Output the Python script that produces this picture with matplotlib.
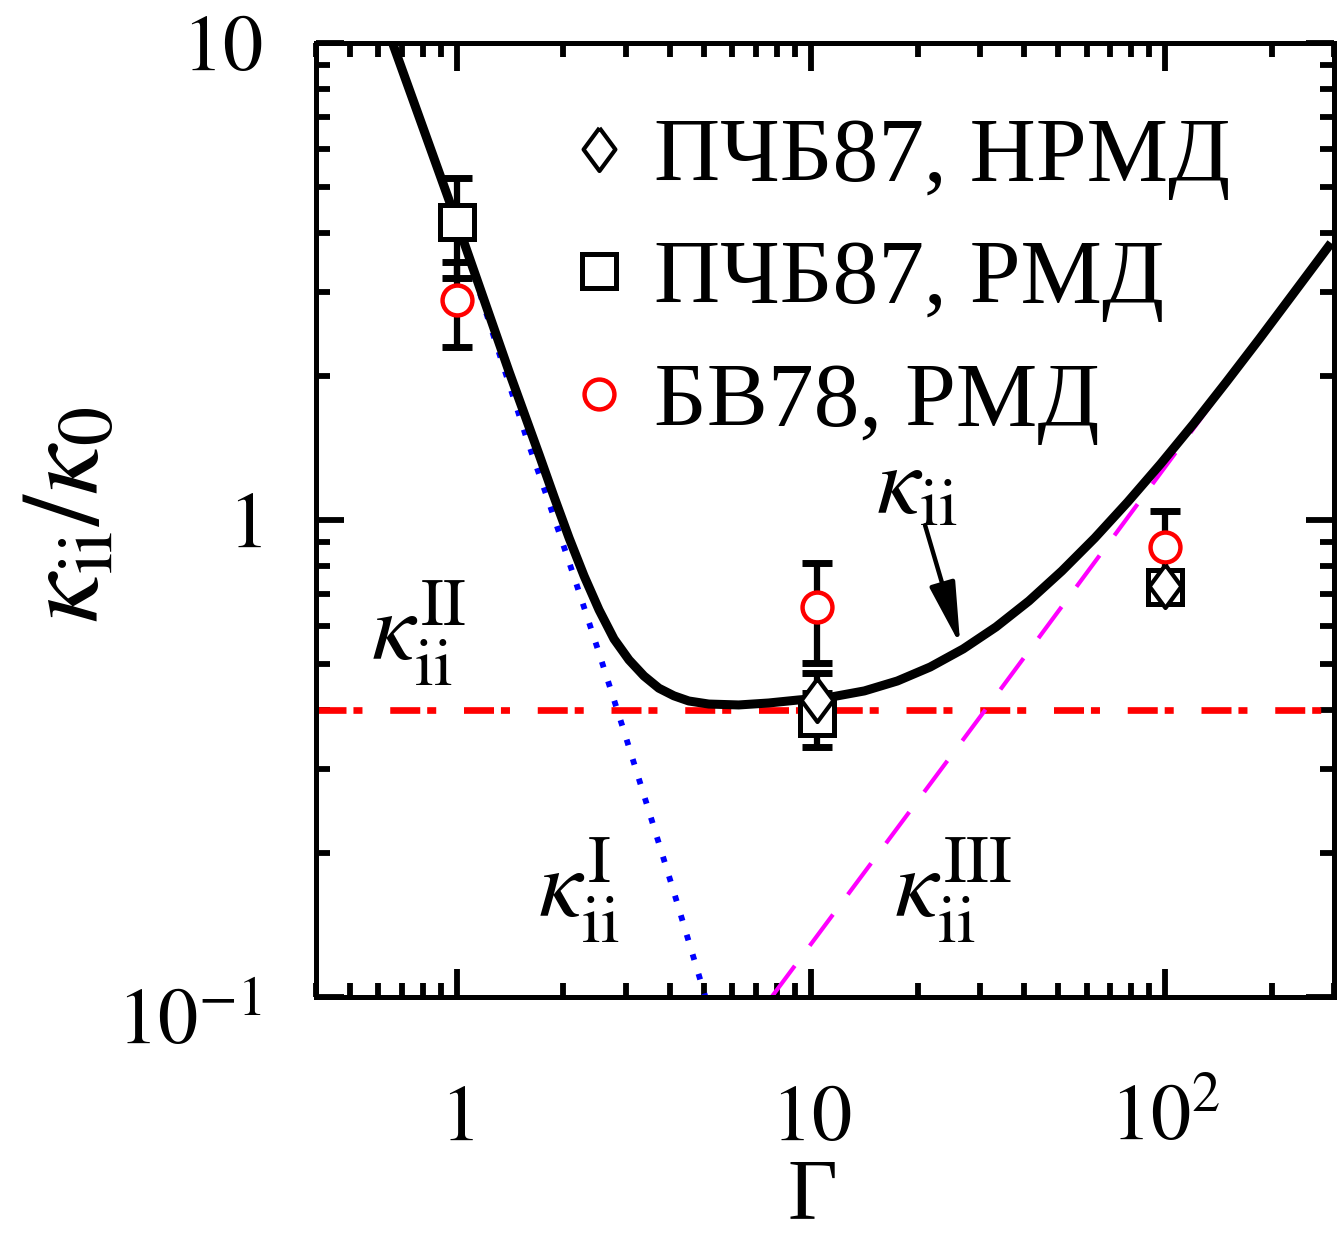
import numpy as np
import matplotlib
matplotlib.use("Agg")
import matplotlib.pyplot as plt
import matplotlib.transforms as mtransforms
from matplotlib.lines import Line2D
from matplotlib.ticker import LogLocator, NullFormatter

plt.rcParams['font.family'] = ['Liberation Serif', 'DejaVu Serif']
plt.rcParams['mathtext.fontset'] = 'stix'
plt.rcParams['lines.scale_dashes'] = False

# ---------------- data ----------------
# total kappa_ii curve (solid black)
gamma_fit = [0.658, 1.0, 1.405, 1.708, 1.882, 2.074, 2.287, 2.520, 2.778, 3.062, 3.375,
             3.719, 4.100, 4.518, 5.144, 6.250, 7.593, 9.222, 11.42, 14.15, 17.53,
             21.71, 26.90, 33.31, 41.26, 51.11, 63.31, 78.43, 97.12, 120.3, 149.0,
             184.6, 228.7, 283.2, 294.4]
kappa_fit = [10.0, 4.214, 2.043, 1.369, 1.117, 0.917, 0.763, 0.648, 0.563, 0.509, 0.471,
             0.444, 0.428, 0.4174, 0.4113, 0.4095, 0.4134, 0.4195, 0.4256, 0.4382, 0.4597,
             0.4918, 0.5366, 0.5967, 0.6765, 0.7818, 0.9168, 1.0907, 1.3105, 1.590, 1.947,
             2.396, 2.963, 3.664, 3.808]

# kappa_ii^I (blue dotted)
gamma_I = [0.658, 1.0, 1.569, 1.822, 2.143, 2.520, 2.963, 3.485, 4.100, 4.822, 5.045]
kappa_I = [10.0, 4.214, 1.493, 1.085, 0.7594, 0.5263, 0.3612, 0.2455, 0.1660, 0.1112, 0.0995]

# kappa_ii^II (red dash-dot, constant)
kappa_II = 0.4

# kappa_ii^III (magenta dashed)
gamma_III = [7.74, 33.1, 160.0, 300.0]
kappa_III = [0.1, 0.426, 2.07, 3.85]

# simulation points
gamma_nrmd = [10.4, 100.0]
kappa_nrmd = [0.420, 0.727]
err_nrmd = [0.058, 0.0]

gamma_rmd = [1.0, 10.4, 100.0]
kappa_rmd = [4.21, 0.384, 0.723]
err_rmd = [0.99, 0.05, 0.0]

gamma_bv = [1.0, 10.4, 100.0]
kappa_bv = [2.89, 0.657, 0.878]
err_bv = [0.58, 0.155, 0.166]

legend_labels = ['ПЧБ87, НРМД', 'ПЧБ87, РМД', 'БВ78, РМД']
xtick_vals = [1, 10, 100]
xtick_labels = [r'$1$', r'$10$', r'$10^{2}$']
ytick_vals = [0.1, 1, 10]
ytick_labels = [r'$10^{-1}$', r'$1$', r'$10$']

# ---------------- figure ----------------
W, H = 1338, 1240
fig = plt.figure(figsize=(W / 100, H / 100), dpi=100)
ax = fig.add_axes([316 / W, 1 - 997 / H, (1334 - 316) / W, (997 - 43) / H])
ax.set_xscale('log')
ax.set_yscale('log')
ax.set_xlim(0.4, 300)
ax.set_ylim(0.1, 10)

for s in ax.spines.values():
    s.set_linewidth(3.6)

ax.xaxis.set_major_locator(LogLocator(base=10, numticks=10))
ax.xaxis.set_minor_locator(LogLocator(base=10, subs=np.arange(2, 10), numticks=20))
ax.yaxis.set_major_locator(LogLocator(base=10, numticks=10))
ax.yaxis.set_minor_locator(LogLocator(base=10, subs=np.arange(2, 10), numticks=20))
ax.tick_params(which='both', direction='in', top=True, right=True,
               labelbottom=False, labelleft=False, width=4.2)
ax.tick_params(which='major', length=20)
ax.tick_params(which='minor', length=10)
ax.xaxis.set_minor_formatter(NullFormatter())
ax.yaxis.set_minor_formatter(NullFormatter())

# model lines
ax.axhline(kappa_II, color='#ff0000', lw=4.8, dashes=(21.6, 5, 6.5, 20), zorder=2)
ax.plot(gamma_I, kappa_I, color='#0000ff', lw=4.2, dashes=(4.2, 10.5),
        dash_capstyle='butt', zorder=2)
ax.plot(gamma_III, kappa_III, color='#ff00ff', lw=3.0, dashes=(28, 18), zorder=2)
ax.plot(gamma_fit, kappa_fit, color='black', lw=6.5, zorder=3, solid_capstyle='butt',
        solid_joinstyle='round')

# error bars
ekw = dict(fmt='none', ecolor='black', elinewidth=4.5, capsize=11, capthick=5, zorder=4)
ax.errorbar(gamma_bv, kappa_bv, yerr=err_bv, **ekw)
ax.errorbar(gamma_rmd, kappa_rmd, yerr=err_rmd, **ekw)
ax.errorbar(gamma_nrmd, kappa_nrmd, yerr=err_nrmd, **ekw)

diamond = [(0, 1), (0.74, 0), (0, -1), (-0.74, 0), (0, 1)]
mk_bv = dict(marker='o', ls='none', mfc='white', mec='#ff0000', ms=21.5, mew=3.2)
mk_rmd = dict(marker='s', ls='none', mfc='white', mec='black', ms=24, mew=3.6)
mk_nrmd = dict(marker=diamond, ls='none', mfc='white', mec='black', ms=31, mew=3.0)
ax.plot(gamma_bv, kappa_bv, zorder=5, **mk_bv)
ax.plot(gamma_rmd, kappa_rmd, zorder=6, **mk_rmd)
ax.plot(gamma_nrmd, kappa_nrmd, zorder=7, **mk_nrmd)

# legend
handles = [Line2D([], [], **mk_nrmd), Line2D([], [], **mk_rmd), Line2D([], [], **mk_bv)]
leg = ax.legend(handles, legend_labels, loc='upper left', bbox_to_anchor=(0.255, 0.923),
                frameon=False, fontsize=66, handlelength=0.5, handletextpad=0.36,
                labelspacing=0.43, borderpad=0, borderaxespad=0)

# tick labels placed manually (baseline aligned)
def off(dx, dy):
    return mtransforms.ScaledTranslation(dx / 100, dy / 100, fig.dpi_scale_trans)

tx = mtransforms.blended_transform_factory(ax.transData, ax.transAxes) + off(0, -143)
for v, lab in zip(xtick_vals, xtick_labels):
    ax.text(v, 0, lab, transform=tx, ha='center', va='baseline', fontsize=58)

ty = mtransforms.blended_transform_factory(ax.transAxes, ax.transData)
y_off = {0.1: -48, 1: -27, 10: -27}
for v, lab in zip(ytick_vals, ytick_labels):
    ax.text(0, v, lab, transform=ty + off(-54, y_off[v]), ha='right', va='baseline',
            fontsize=58)

# axis labels
fig.text(812 / W, 1 - 1237 / H, 'Γ', ha='center', va='bottom', fontsize=62)
fig.text(72 / W, 1 - 515 / H, r'$\kappa_{\rm ii}/\kappa_0$', rotation=90,
         ha='center', va='center', fontsize=80)

# curve annotations
ax.text(0.78, 0.58, r'$\kappa_{\rm ii}^{\rm II}$', ha='center', va='center', fontsize=70)
ax.text(2.214, 0.1676, r'$\kappa_{\rm ii}^{\rm I}$', ha='center', va='center', fontsize=70)
ax.text(25.2, 0.1676, r'$\kappa_{\rm ii}^{\rm III}$', ha='center', va='center', fontsize=70)
ax.text(19.83, 1.156, r'$\kappa_{\rm ii}$', ha='center', va='center', fontsize=70)
ax.annotate('', xy=(26.4, 0.547), xytext=(21.0, 0.975),
            arrowprops=dict(arrowstyle='-|>,head_length=1.9,head_width=0.4',
                            color='black', lw=3.2, mutation_scale=20,
                            shrinkA=0, shrinkB=0), zorder=8)

fig.savefig('out.png', dpi=100)
